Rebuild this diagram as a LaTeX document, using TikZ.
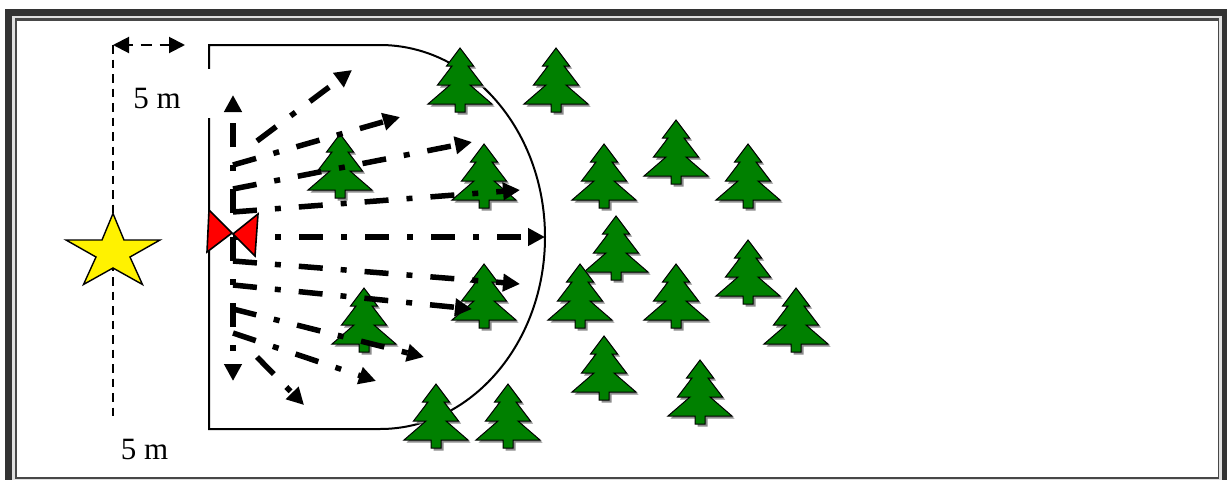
\documentclass[tikz,border=0pt]{standalone}
\usepackage{fontspec}
\setmainfont{Liberation Serif}
\usetikzlibrary{arrows.meta}
\definecolor{framedark}{HTML}{333333}
\definecolor{frameinner}{HTML}{484848}
\definecolor{treegreen}{HTML}{008000}
\definecolor{treeshadow}{HTML}{8C8C8C}
\tikzset{
  thinarrow/.style={line width=2pt,dash pattern=on 11pt off 8pt,dash phase=7pt,
    {Triangle[length=16pt,width=16pt]}-{Triangle[length=16pt,width=16pt]}},
  guide/.style={line width=1.6pt,dash pattern=on 8.5pt off 6pt},
  fieldline/.style={line width=2pt},
  beam/.style={line width=5.5pt,dash pattern=on 24pt off 18pt on 6pt off 18pt,
    -{Triangle[length=17pt,width=17pt]}},
  lamp/.style={fill=red,draw=black,line width=1.6pt,line join=miter},
  starshape/.style={fill=yellow,draw=black,line width=1.4pt,line join=miter},
  label5/.style={font=\fontsize{31}{36}\selectfont,inner sep=0pt,anchor=base,text=black},
  tree/.pic={
    \fill[treeshadow,shift={(2.5,2.5)}] (0,1)--(13.5,19)--(8,19)--(22.5,38)--(10,38)--(32,57)--(5,57)--(5,65)--(-5,65)--(-5,57)--(-32,57)--(-10,38)--(-22.5,38)--(-8,19)--(-13.5,19)--cycle;
    \draw[fill=treegreen,draw=black,line width=1pt,line join=miter] (0,1)--(13.5,19)--(8,19)--(22.5,38)--(10,38)--(32,57)--(5,57)--(5,65)--(-5,65)--(-5,57)--(-32,57)--(-10,38)--(-22.5,38)--(-8,19)--(-13.5,19)--cycle;
  }
}
\begin{document}
\begin{tikzpicture}[x=1pt,y=-1pt]
\useasboundingbox (0,0) rectangle (1227,480);
\fill[white] (0,0) rectangle (1227,480);
% frame
\fill[framedark] (5,9) rectangle (1227,480);
\fill[white!88!black] (12,16) rectangle (1222,480);
\fill[frameinner] (14.5,18) rectangle (1219,479);
\fill[white] (16.5,21) rectangle (1217.5,477);
% distance marks
\coordinate (guideTop) at (113,45);
\coordinate (guideBot) at (113,416);
\coordinate (markEnd) at (185,45);
\draw[guide] (guideTop) -- (guideBot);
\draw[thinarrow] (guideTop) -- (markEnd);
% field outline
\draw[fieldline] (209,429) -- (209,45) -- (380,45) arc[start angle=-90,end angle=90,x radius=165,y radius=192] -- cycle;
% label mask and labels
\fill[white] (113.5,69) rectangle (211,118);
\node[label5] (labelTop) at (157,108) {5 m};
\node[label5] (labelBot) at (144.5,459) {5 m};
% star
\draw[starshape] (113,213.5)--(124,240)--(160,240)--(130,257)--(142.5,284.5)--(113,268)--(83.5,284.5)--(96,257)--(66,240)--(102,240)--cycle;
% trees
\foreach \tx/\ty in {460/47,556/47,340/133,484/143,604/143,676/119,748/143,616/215,484/263,580/263,676/263,748/239,796/287,364/287,604/335,700/359,436/383,508/383}
  \pic at (\tx,\ty) {tree};
% beams
\foreach \name/\sx/\sy/\ex/\ey in {
  a/233/213/233/95, b/257/141/352/70, c/233/165/400/117, d/233/189/472/142,
  e/233/212/520/190, f/233/237/545/237, g/233/261/520/284, h/233/285/472/309,
  i/233/309/424/357, j/233/333/376/381, k/257/357/304/405, l/233/237/233/381}{
  \coordinate (\name S) at (\sx,\sy);
  \coordinate (\name E) at (\ex,\ey);
  \draw[beam] (\name S) -- (\name E);
}
% lamp
\draw[lamp] (209,210)--(232,233)--(207,252)--cycle;
\draw[lamp] (258,214)--(233,234)--(255,256)--cycle;
\end{tikzpicture}
\end{document}
